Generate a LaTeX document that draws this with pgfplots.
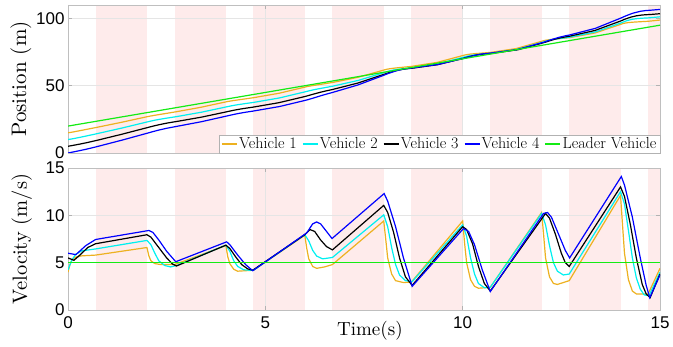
\documentclass[border=0pt]{standalone}
\usepackage{fontspec}
\setsansfont{Liberation Sans}
\newfontfamily\cmr{lmroman10-regular.otf}
\usepackage{pgfplots}
\usepackage{pgfplotstable}
\pgfplotsset{compat=1.18}
\definecolor{cVa}{RGB}{237,177,32}
\definecolor{cVb}{RGB}{0,240,240}
\definecolor{cVc}{RGB}{0,0,0}
\definecolor{cVd}{RGB}{0,0,255}
\definecolor{cLd}{RGB}{20,235,20}
\definecolor{shade}{RGB}{254,235,235}

\pgfplotstableread{
t v
0 4.0
0.05 4.8
0.1 5.3
0.2 5.6
0.35 5.72
0.7 5.8
2.0 6.6
2.05 5.7
2.1 5.2
2.2 4.9
2.35 4.8
2.7 4.8
4.0 6.8
4.05 5.6
4.1 4.9
4.2 4.3
4.3 4.1
4.5 4.15
4.7 4.2
6.0 7.9
6.05 6.5
6.1 5.4
6.2 4.6
6.3 4.4
6.5 4.55
6.7 4.8
8.0 9.4
8.05 7.5
8.1 5.5
8.2 3.8
8.3 3.1
8.5 2.9
8.7 2.95
10.0 9.4
10.05 7.0
10.1 5.0
10.2 3.2
10.3 2.5
10.4 2.3
10.7 2.4
12.0 10.3
12.05 8.0
12.1 5.5
12.2 3.5
12.3 2.8
12.4 2.7
12.7 3.1
14.0 12.1
14.05 9.0
14.1 6.0
14.2 3.2
14.3 2.0
14.4 1.7
14.7 1.7
15.0 4.4
}\velA

\pgfplotstableread{
t v
0 4.25
0.1 5.3
0.2 5.9
0.35 6.25
0.7 6.45
2.0 7.35
2.1 6.9
2.2 6.0
2.3 5.2
2.45 4.7
2.6 4.55
2.75 4.7
4.0 6.85
4.1 6.2
4.2 5.2
4.3 4.6
4.45 4.25
4.6 4.2
4.7 4.2
6.0 7.95
6.1 7.3
6.2 6.3
6.3 5.7
6.45 5.4
6.7 5.55
8.0 10.05
8.1 8.8
8.2 6.6
8.3 4.8
8.4 3.7
8.55 3.1
8.72 3.0
10.0 9.0
10.1 7.8
10.2 5.5
10.3 3.8
10.4 2.8
10.55 2.35
10.7 2.4
12.0 10.2
12.1 9.0
12.2 6.8
12.3 5.0
12.4 4.1
12.55 3.7
12.7 3.8
14.0 12.5
14.1 11.2
14.2 8.4
14.3 5.5
14.4 3.4
14.5 2.2
14.6 1.6
14.72 1.5
15.0 4.0
}\velB

\pgfplotstableread{
t v
0 5.5
0.15 5.25
0.3 5.8
0.5 6.6
0.7 7.0
2.0 7.95
2.1 7.7
2.3 6.6
2.5 5.5
2.65 4.85
2.75 4.65
4.0 6.85
4.1 6.5
4.25 5.6
4.4 4.8
4.55 4.35
4.68 4.2
6.0 7.95
6.13 8.5
6.25 8.3
6.4 7.4
6.55 6.7
6.7 6.35
8.0 11.05
8.1 10.3
8.25 8.2
8.4 5.5
8.55 3.5
8.72 2.6
10.0 8.8
10.1 8.5
10.25 7.0
10.4 4.6
10.55 2.8
10.7 2.0
12.1 10.2
12.2 9.7
12.35 8.0
12.5 6.0
12.6 5.0
12.7 4.6
14.0 13.0
14.1 12.0
14.25 9.0
14.4 5.5
14.55 2.7
14.65 1.7
14.75 1.3
15.0 3.8
}\velC

\pgfplotstableread{
t v
0 6.0
0.2 5.85
0.45 6.8
0.7 7.45
2.05 8.4
2.15 8.2
2.3 7.4
2.5 6.2
2.73 5.1
4.02 7.2
4.1 6.9
4.3 5.8
4.5 4.8
4.68 4.15
6.05 8.15
6.2 9.1
6.3 9.3
6.4 9.1
6.55 8.3
6.69 7.55
8.01 12.3
8.1 11.5
8.3 8.8
8.5 5.5
8.72 2.5
10.02 8.6
10.15 8.3
10.3 6.9
10.5 4.2
10.7 1.95
12.05 10.2
12.15 10.3
12.25 9.8
12.45 7.8
12.6 6.3
12.71 5.5
14.02 14.1
14.1 13.2
14.3 9.8
14.5 5.5
14.65 2.6
14.74 1.3
15.0 3.7
}\velD

\pgfplotstableread{
t v
0 5
15 5
}\velL

\pgfplotstableread{
t p
0 15.0
0.05 15.22
0.1 15.47
0.2 16.02
0.35 16.87
0.7 18.88
1.35 22.78
2.0 26.94
2.05 27.25
2.1 27.52
2.2 28.03
2.35 28.76
2.7 30.44
3.35 33.88
4.0 37.98
4.05 38.29
4.1 38.55
4.2 39.01
4.3 39.43
4.5 40.25
4.7 41.09
5.35 44.42
6.0 48.95
6.05 49.31
6.1 49.61
6.2 50.11
6.3 50.56
6.5 51.46
6.7 52.39
7.35 56.26
8.0 61.62
8.05 62.04
8.1 62.37
8.2 62.83
8.3 63.18
8.5 63.78
8.7 64.36
9.35 67.33
10.0 72.39
10.05 72.80
10.1 73.10
10.2 73.51
10.3 73.80
10.4 74.04
10.7 74.74
11.35 77.58
12.0 83.00
12.05 83.45
12.1 83.79
12.2 84.24
12.3 84.56
12.4 84.83
12.7 85.70
13.35 89.18
14.0 95.58
14.05 96.11
14.1 96.48
14.2 96.94
14.3 97.20
14.4 97.39
14.7 97.90
15.0 98.81
}\posA

\pgfplotstableread{
t p
0 10.0
0.1 10.47
0.2 11.03
0.35 11.93
0.7 14.13
1.35 18.44
2.0 23.03
2.1 23.74
2.2 24.38
2.3 24.93
2.45 25.67
2.6 26.35
2.75 27.04
3.375 30.28
4.0 34.19
4.1 34.83
4.2 35.40
4.3 35.88
4.45 36.54
4.6 37.17
4.7 37.58
5.35 40.88
6.0 45.41
6.1 46.16
6.2 46.84
6.3 47.43
6.45 48.26
6.7 49.61
7.35 53.92
8.0 59.68
8.1 60.61
8.2 61.38
8.3 61.94
8.4 62.37
8.55 62.87
8.72 63.38
9.36 66.22
10.0 70.99
10.1 71.82
10.2 72.48
10.3 72.94
10.4 73.26
10.55 73.64
10.7 73.99
11.35 76.78
12.0 82.11
12.1 83.06
12.2 83.85
12.3 84.43
12.4 84.88
12.55 85.46
12.7 86.01
13.35 89.86
14.0 96.54
14.1 97.71
14.2 98.69
14.3 99.38
14.4 99.82
14.5 100.09
14.6 100.28
14.72 100.46
15.0 101.21
}\posB

\pgfplotstableread{
t p
0 5.0
0.15 5.79
0.3 6.61
0.5 7.84
0.7 9.18
1.35 13.83
2.0 18.79
2.1 19.57
2.3 20.98
2.5 22.18
2.65 22.94
2.75 23.41
3.375 26.61
4.0 30.49
4.1 31.15
4.25 32.05
4.4 32.82
4.55 33.49
4.68 34.04
5.34 37.37
6.0 41.95
6.13 43.01
6.25 44.01
6.4 45.18
6.55 46.22
6.7 47.18
7.35 52.02
8.0 58.39
8.1 59.45
8.25 60.83
8.4 61.84
8.55 62.51
8.72 63.01
9.36 65.61
10.0 70.20
10.1 71.06
10.25 72.21
10.4 73.07
10.55 73.62
10.7 73.96
11.4 76.74
12.1 82.39
12.2 83.37
12.35 84.69
12.5 85.73
12.6 86.27
12.7 86.74
13.35 91.05
14.0 98.08
14.1 99.32
14.25 100.89
14.4 101.96
14.55 102.57
14.65 102.78
14.75 102.92
15.0 103.54
}\posC

\pgfplotstableread{
t p
0 0.0
0.2 1.17
0.45 2.72
0.7 4.48
1.375 9.61
2.05 15.05
2.15 15.88
2.3 17.03
2.5 18.37
2.73 19.65
3.375 23.22
4.02 27.47
4.1 28.02
4.3 29.27
4.5 30.31
4.68 31.10
5.365 34.57
6.05 39.40
6.2 40.68
6.3 41.59
6.4 42.50
6.55 43.79
6.69 44.89
7.35 50.60
8.01 57.87
8.1 58.93
8.3 60.94
8.5 62.35
8.72 63.21
9.37 65.77
10.02 70.31
10.15 71.39
10.3 72.52
10.5 73.61
10.7 74.21
11.375 76.85
12.05 82.28
12.15 83.30
12.25 84.30
12.45 86.04
12.6 87.08
12.71 87.72
13.365 92.67
14.02 100.44
14.1 101.52
14.3 103.80
14.5 105.31
14.65 105.91
14.74 106.07
15.0 106.70
}\posD

\pgfplotstableread{
t p
0 20
15 95
}\posL

\begin{document}
\begin{tikzpicture}
\path (0,0) rectangle (673bp,347bp);
\pgfplotsset{
  myaxis/.style={
    scale only axis, width=592bp, xmin=0, xmax=15, set layers,
    grid=major, grid style={gray!20, line width=0.5bp},
    axis line style={gray!50, line width=0.6bp},
    tick style={gray!60, line width=0.6bp},
    tick align=inside, major tick length=4bp,
    tick label style={font=\fontsize{17bp}{20bp}\sffamily},
    /pgf/number format/assume math mode=true,
    xtick={0,5,10,15},
    label style={font=\fontsize{20.5bp}{24bp}\cmr},
    every axis plot/.append style={line width=1.2bp},
  },
  band/.style={draw=none, fill=shade, forget plot, on layer=axis background},
}
% ---------- top: position ----------
\begin{axis}[myaxis, at={(68bp,194bp)}, anchor=south west, height=148bp,
  ymin=0, ymax=110, ytick={0,50,100}, xticklabels={},
  ylabel={Position (m)},
  ylabel style={at={(axis description cs:-0.0795,0.5)}, anchor=center, font=\fontsize{21bp}{24bp}\cmr},
  legend columns=5,
  legend style={at={(1,0)}, anchor=south east, draw=gray!60, fill=white,
    font=\fontsize{16bp}{19bp}\selectfont, inner xsep=2bp, inner ysep=1bp,
    nodes={inner sep=1.5bp},
    /tikz/every even column/.append style={column sep=4bp}},
  legend image code/.code={\draw[#1] (0bp,0bp) -- (15bp,0bp);},
]
\addplot[band] coordinates {(0.7,0) (2,0) (2,110) (0.7,110)} -- cycle;
\addplot[band] coordinates {(2.7,0) (4,0) (4,110) (2.7,110)} -- cycle;
\addplot[band] coordinates {(4.7,0) (6,0) (6,110) (4.7,110)} -- cycle;
\addplot[band] coordinates {(6.7,0) (8,0) (8,110) (6.7,110)} -- cycle;
\addplot[band] coordinates {(8.7,0) (10,0) (10,110) (8.7,110)} -- cycle;
\addplot[band] coordinates {(10.7,0) (12,0) (12,110) (10.7,110)} -- cycle;
\addplot[band] coordinates {(12.7,0) (14,0) (14,110) (12.7,110)} -- cycle;
\addplot[band] coordinates {(14.7,0) (15,0) (15,110) (14.7,110)} -- cycle;
\addplot[cVa] table[x=t,y=p] {\posA};
\addplot[cVb] table[x=t,y=p] {\posB};
\addplot[cVc] table[x=t,y=p] {\posC};
\addplot[cVd] table[x=t,y=p] {\posD};
\addplot[cLd] table[x=t,y=p] {\posL};
\legend{Vehicle 1,Vehicle 2,Vehicle 3,Vehicle 4,Leader Vehicle}
\end{axis}
% ---------- bottom: velocity ----------
\begin{axis}[myaxis, at={(68bp,37bp)}, anchor=south west, height=142bp,
  ymin=0, ymax=15, ytick={0,5,10,15},
  xticklabel style={yshift=-3bp},
  xlabel={Time(s)},
  xlabel style={at={(axis description cs:0.51,-0.145)}, anchor=center, font=\fontsize{19bp}{22bp}\cmr},
  ylabel={Velocity (m/s)},
  ylabel style={at={(axis description cs:-0.078,0.5)}, anchor=center},
]
\addplot[band] coordinates {(0.7,0) (2,0) (2,15) (0.7,15)} -- cycle;
\addplot[band] coordinates {(2.7,0) (4,0) (4,15) (2.7,15)} -- cycle;
\addplot[band] coordinates {(4.7,0) (6,0) (6,15) (4.7,15)} -- cycle;
\addplot[band] coordinates {(6.7,0) (8,0) (8,15) (6.7,15)} -- cycle;
\addplot[band] coordinates {(8.7,0) (10,0) (10,15) (8.7,15)} -- cycle;
\addplot[band] coordinates {(10.7,0) (12,0) (12,15) (10.7,15)} -- cycle;
\addplot[band] coordinates {(12.7,0) (14,0) (14,15) (12.7,15)} -- cycle;
\addplot[band] coordinates {(14.7,0) (15,0) (15,15) (14.7,15)} -- cycle;
\addplot[cVa] table[x=t,y=v] {\velA};
\addplot[cVb] table[x=t,y=v] {\velB};
\addplot[cVc] table[x=t,y=v] {\velC};
\addplot[cVd] table[x=t,y=v] {\velD};
\addplot[cLd] table[x=t,y=v] {\velL};
\end{axis}
\end{tikzpicture}
\end{document}
